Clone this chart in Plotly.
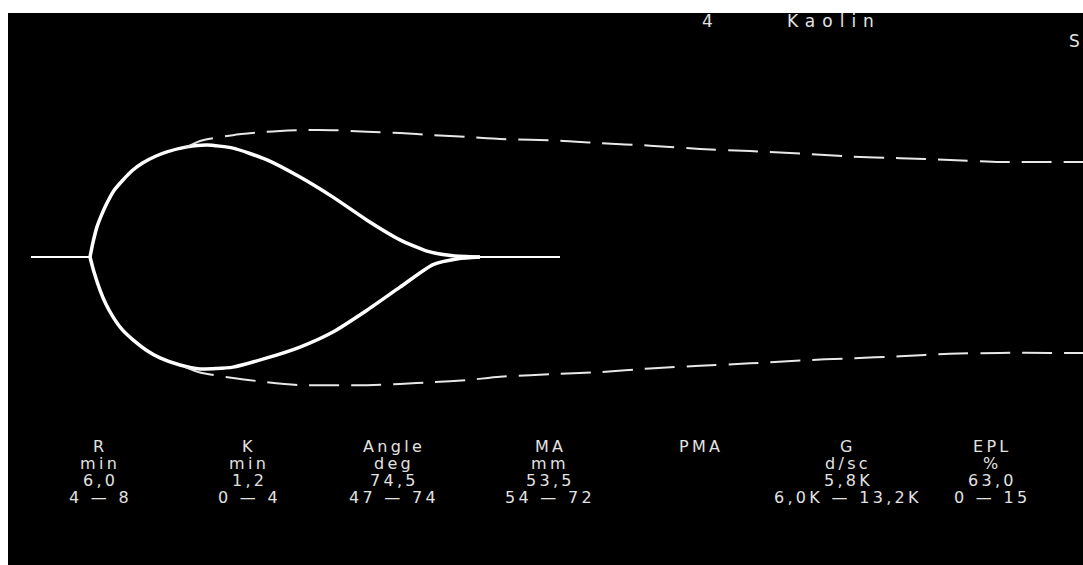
import plotly.graph_objects as go

# --- TEG tracing (time in minutes, half-amplitude in mm above / below baseline) ---
baseline_start_time = [0.1, 6.0]          # flat line until clot starts forming (R)
baseline_end_time = [45.0, 53.0]          # flat line after lysis

upper_time = [6.0, 6.3, 6.7, 7.2, 7.7, 8.4, 9.3, 10.2, 11.3, 12.5, 13.7, 15.7, 17.7,
              20.3, 23.7, 27.0, 30.3, 33.7, 37.0, 39.7, 42.3, 45.0]
upper_mm = [0.0, 3.5, 7.2, 10.3, 12.9, 15.9, 18.4, 20.6, 22.5, 24.0, 25.1, 26.3, 26.75,
            26.0, 23.2, 19.1, 14.3, 8.8, 4.1, 1.4, 0.3, 0.0]

lower_time = [6.0, 6.4, 7.0, 7.6, 8.3, 9.2, 10.3, 11.6, 13.0, 15.0, 17.0,
              20.3, 23.7, 27.0, 30.3, 33.7, 37.0, 40.3, 42.8, 45.0]
lower_mm = [0.0, 3.6, 7.9, 11.3, 14.3, 17.3, 19.8, 22.2, 24.1, 25.8, 26.75,
            26.3, 24.1, 21.5, 17.9, 12.7, 7.2, 1.8, 0.4, 0.0]

# --- reference envelope (dashed) ---
ref_time = [15.5, 17.0, 20.3, 23.7, 27.0, 30.3, 33.7, 37.0, 40.3, 43.7, 47.0, 53.0,
            57.0, 62.0, 67.0, 72.0, 77.0, 82.0, 87.0, 92.0, 97.0, 102.0, 105.3]
ref_upper_mm = [26.0, 27.7, 29.1, 29.9, 30.3, 30.3, 29.9, 29.6, 29.1, 28.7, 28.2, 27.8,
                27.2, 26.6, 25.8, 25.3, 24.7, 24.0, 23.6, 23.2, 22.7, 22.7, 22.7]
ref_lower_mm = [26.3, 27.6, 28.9, 29.9, 30.6, 30.6, 30.6, 30.3, 29.9, 29.4, 28.6, 27.9,
                27.5, 26.6, 26.0, 25.4, 24.7, 24.2, 23.7, 23.1, 22.9, 22.9, 22.9]

# --- parameter table ---
param_names = ["R", "K", "Angle", "MA", "PMA", "G", "EPL"]
param_units = ["min", "min", "deg", "mm", "", "d/sc", "%"]
param_values = ["6,0", "1,2", "74,5", "53,5", "", "5,8K", "63,0"]
param_ranges = ["4 — 8", "0 — 4", "47 — 74", "54 — 72", "", "6,0K — 13,2K", "0 — 15"]
param_centers_px = [100, 249, 394, 550, 701, 848, 992]

channel_label = "4"
activator_label = "Kaolin"

W, H = 1083, 565
L, T = 8, 13
PW, PH = W - L, H - T

X_RANGE = [-2.2, 105.3]
Y_RANGE = [-73.56, 58.28]


def px_x(px):
    return (px - L) / PW


def px_y(py):
    return (H - py) / PH


def wide(s, spacing):
    return f'<span style="letter-spacing:{spacing}px">{s}</span>'


WHITE = "#ffffff"
TEXT = "#e2e2e2"

fig = go.Figure()

solid = dict(color=WHITE, width=3.5)
for xs, ys in [(baseline_start_time, [0, 0]), (baseline_end_time, [0, 0])]:
    fig.add_trace(go.Scatter(x=xs, y=ys, mode="lines",
                             line=dict(color=WHITE, width=2.2), hoverinfo="skip"))

fig.add_trace(go.Scatter(x=upper_time, y=upper_mm, mode="lines",
                         line=dict(solid, shape="spline", smoothing=0.6), hoverinfo="skip"))
fig.add_trace(go.Scatter(x=lower_time, y=[-v for v in lower_mm], mode="lines",
                         line=dict(solid, shape="spline", smoothing=0.6), hoverinfo="skip"))

dashed = dict(color="#e8e8e8", width=2, dash="30px,12px", shape="spline", smoothing=0.6)
fig.add_trace(go.Scatter(x=ref_time, y=ref_upper_mm, mode="lines", line=dashed, hoverinfo="skip"))
fig.add_trace(go.Scatter(x=ref_time, y=[-v for v in ref_lower_mm], mode="lines", line=dashed,
                         hoverinfo="skip"))

font_main = dict(family="DejaVu Sans, Verdana, sans-serif", color=TEXT, size=16)

annotations = []
row_y_px = [447, 463, 480, 497]
for i, cx in enumerate(param_centers_px):
    for row, texts in enumerate([param_names, param_units, param_values, param_ranges]):
        s = texts[i]
        if not s:
            continue
        annotations.append(dict(
            x=px_x(cx), y=px_y(row_y_px[row]), xref="paper", yref="paper",
            text=wide(s, 3.3), showarrow=False, xanchor="center", yanchor="middle",
            font=font_main))

font_top = dict(family="DejaVu Sans, Verdana, sans-serif", color=TEXT, size=17)
annotations.append(dict(x=px_x(709), y=px_y(21), xref="paper", yref="paper",
                        text=wide(channel_label, 4), showarrow=False, xanchor="center",
                        yanchor="middle", font=font_top))
annotations.append(dict(x=px_x(785), y=px_y(21), xref="paper", yref="paper",
                        text=wide(activator_label, 7), showarrow=False, xanchor="left",
                        yanchor="middle", font=font_top))
annotations.append(dict(x=px_x(1067), y=px_y(41), xref="paper", yref="paper",
                        text="S", showarrow=False, xanchor="left",
                        yanchor="middle", font=font_top))

axis = dict(visible=False, showgrid=False, zeroline=False, fixedrange=True)
fig.update_layout(
    width=W, height=H,
    margin=dict(l=L, r=0, t=T, b=0, pad=0),
    paper_bgcolor="#ffffff", plot_bgcolor="#000000",
    showlegend=False,
    xaxis=dict(axis, range=X_RANGE),
    yaxis=dict(axis, range=Y_RANGE),
    annotations=annotations,
)

fig.write_html("out.html", config={"displayModeBar": False})
